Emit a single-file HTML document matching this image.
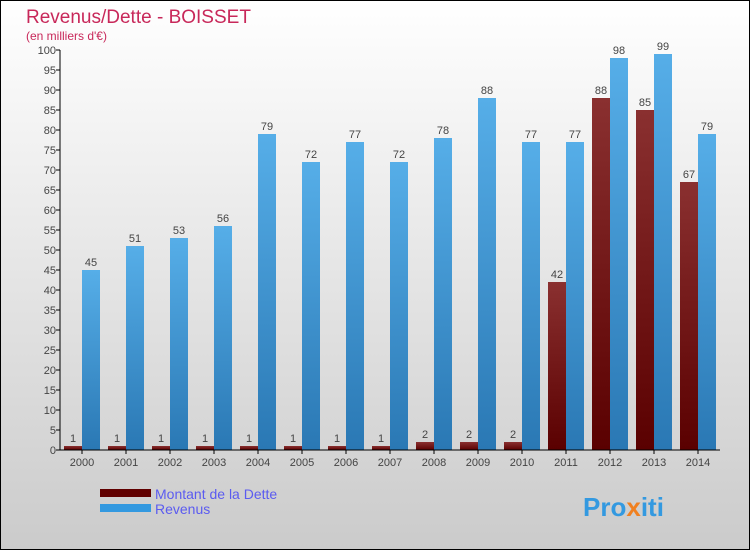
<!DOCTYPE html>
<html><head><meta charset="utf-8"><style>
html,body{margin:0;padding:0}
body{width:750px;height:550px;overflow:hidden;font-family:"Liberation Sans",sans-serif}
</style></head><body>
<svg id="chart" width="750" height="550" xmlns="http://www.w3.org/2000/svg">
<defs>
<linearGradient id="bg" x1="0" y1="0" x2="0" y2="1"><stop offset="0" stop-color="#ffffff"/><stop offset="1" stop-color="#cbcbcb"/></linearGradient>
<linearGradient id="gd" x1="0" y1="0" x2="0" y2="1"><stop offset="0" stop-color="#8a3030"/><stop offset="1" stop-color="#5a0000"/></linearGradient>
<linearGradient id="gr" x1="0" y1="0" x2="0" y2="1"><stop offset="0" stop-color="#56aee8"/><stop offset="1" stop-color="#2a78b4"/></linearGradient>
</defs>
<rect x="0.5" y="0.5" width="749" height="549" fill="url(#bg)" stroke="#000"/>
<text x="26" y="23" font-size="19" fill="#c8285a">Revenus/Dette - BOISSET</text>
<text x="26" y="40" font-size="12" fill="#c8285a">(en milliers d'€)</text>
<g id="plot"></g>
<g>
<rect x="100" y="489" width="51" height="8" fill="#600000"/>
<text x="155" y="499" font-size="14" fill="#5b5bf0">Montant de la Dette</text>
<rect x="100" y="504" width="51" height="8" fill="#3399e0"/>
<text x="155" y="514" font-size="14" fill="#5b5bf0">Revenus</text>
</g>
<text x="583" y="516" font-size="26" font-weight="bold" fill="#3399e0">Pro<tspan fill="#f08020">x</tspan>iti</text>
</svg>
<script>
const years=["2000","2001","2002","2003","2004","2005","2006","2007","2008","2009","2010","2011","2012","2013","2014"];
const dette=[1,1,1,1,1,1,1,1,2,2,2,42,88,85,67];
const revenus=[45,51,53,56,79,72,77,72,78,88,77,77,98,99,79];
const yTicks=[0,5,10,15,20,25,30,35,40,45,50,55,60,65,70,75,80,85,90,95,100];
const NS="http://www.w3.org/2000/svg";
const g=document.getElementById('plot');
const y=v=>450-v*4;
const xc=i=>82+i*44;
function mk(t,a,txt){const e=document.createElementNS(NS,t);for(const k in a)e.setAttribute(k,a[k]);if(txt!=null)e.textContent=txt;g.appendChild(e);return e;}
yTicks.forEach(v=>{
 const l=mk('line',{x1:56,x2:60,y1:y(v),y2:y(v),stroke:'#000'});
 
 
 const t=mk('text',{x:56,y:y(v)+4,'font-size':11,'text-anchor':'end',fill:'#444'},v);
 
 
});
years.forEach((yr,i)=>{
 const c=xc(i);
 const b1=mk('rect',{x:c-18,y:y(dette[i]),width:18,height:dette[i]*4,fill:'url(#gd)'});
 
 
 const b2=mk('rect',{x:c,y:y(revenus[i]),width:18,height:revenus[i]*4,fill:'url(#gr)'});
 
 
 const l1=mk('text',{x:c-9,y:y(dette[i])-4,'font-size':11,'text-anchor':'middle',fill:'#444'},dette[i]);
 
 
 const l2=mk('text',{x:c+9,y:y(revenus[i])-4,'font-size':11,'text-anchor':'middle',fill:'#444'},revenus[i]);
 
 
 const tk=mk('line',{x1:c,x2:c,y1:450,y2:454,stroke:'#000'});
 
 
 const xl=mk('text',{x:c,y:466,'font-size':11,'text-anchor':'middle',fill:'#444'},yr);
 
 
});
const ya=mk('line',{x1:60,x2:60,y1:50,y2:450,stroke:'#000'});


const xa=mk('line',{x1:60,x2:720,y1:450,y2:450,stroke:'#000'});


</script>
</body></html>
